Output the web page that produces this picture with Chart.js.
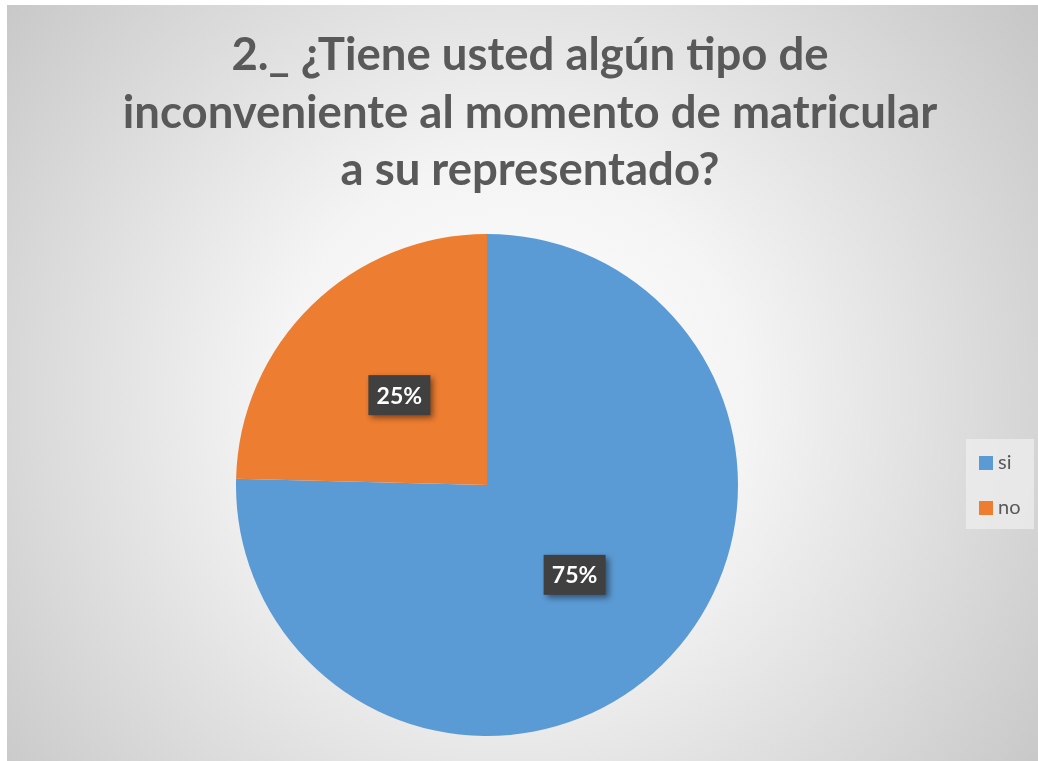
<!DOCTYPE html>
<html>
<head>
<meta charset="utf-8">
<script src="https://cdn.jsdelivr.net/npm/chart.js@4/dist/chart.umd.min.js"></script>
<style>
  html, body { margin: 0; padding: 0; background: #fff; }
  #wrap { width: 1038px; height: 761px; }
</style>
</head>
<body>
<div id="wrap"><canvas id="chart" width="1038" height="761"></canvas></div>
<script>
// chart data
const categories = ['si', 'no'];
const values = [75.4, 24.6];
const sliceColors = ['#5b9bd5', '#ed7d31'];
const titleLines = ['2._ ¿Tiene usted algún tipo de', 'inconveniente al momento de matricular', 'a su representado?'];

// gray radial background behind the whole chart
const backgroundPlugin = {
  id: 'bg',
  beforeDraw(chart) {
    const ctx = chart.ctx;
    const g = ctx.createRadialGradient(510, 400, 0, 510, 400, 680);
    g.addColorStop(0, '#ffffff');
    g.addColorStop(0.35, '#f4f4f4');
    g.addColorStop(1, '#c4c4c4');
    ctx.save();
    ctx.fillStyle = '#ffffff';
    ctx.fillRect(0, 0, chart.width, chart.height);
    ctx.fillStyle = g;
    ctx.fillRect(7, 5, chart.width - 7, chart.height - 5);
    ctx.restore();
  }
};

// title drawn across the full width (the built-in one is clipped to the padded area)
const titlePlugin = {
  id: 'bigTitle',
  afterDraw(chart) {
    const ctx = chart.ctx;
    ctx.save();
    ctx.font = 'bold 45.5px Lato';
    ctx.fillStyle = '#595959';
    ctx.textAlign = 'center';
    ctx.textBaseline = 'alphabetic';
    titleLines.forEach((line, i) => {
      ctx.fillText(line, 530, 70 + i * 57.5);
    });
    ctx.restore();
  }
};

// percentage labels in dark boxes
const labelPlugin = {
  id: 'pctLabels',
  afterDatasetsDraw(chart) {
    const ctx = chart.ctx;
    const meta = chart.getDatasetMeta(0);
    const data = chart.data.datasets[0].data;
    const total = data.reduce((a, b) => a + b, 0);
    ctx.save();
    ctx.font = 'bold 23px Lato';
    meta.data.forEach((arc, i) => {
      const p = arc.tooltipPosition();
      const txt = Math.round(data[i] / total * 100) + '%';
      const w = 62, h = 40;
      ctx.shadowColor = 'rgba(0,0,0,0.45)';
      ctx.shadowBlur = 6;
      ctx.shadowOffsetX = 3;
      ctx.shadowOffsetY = 3;
      ctx.fillStyle = '#404040';
      ctx.fillRect(p.x - w / 2, p.y - h / 2, w, h);
      ctx.shadowColor = 'transparent';
      ctx.fillStyle = '#ffffff';
      ctx.textAlign = 'center';
      ctx.textBaseline = 'middle';
      ctx.fillText(txt, p.x, p.y + 1);
    });
    ctx.restore();
  }
};

// legend box on the right
const legendPlugin = {
  id: 'sideLegend',
  afterDraw(chart) {
    const ctx = chart.ctx;
    const ds = chart.data.datasets[0];
    ctx.save();
    ctx.fillStyle = 'rgba(240,240,240,0.7)';
    ctx.fillRect(966, 439, 68, 90);
    ctx.font = '20px Lato';
    ctx.textBaseline = 'middle';
    chart.data.labels.forEach((lab, i) => {
      const y = 463 + i * 45;
      ctx.fillStyle = ds.backgroundColor[i];
      ctx.fillRect(979, y - 7, 14, 14);
      ctx.fillStyle = '#595959';
      ctx.fillText(lab, 998, y);
    });
    ctx.restore();
  }
};

new Chart(document.getElementById('chart'), {
  type: 'pie',
  data: {
    labels: categories,
    datasets: [{
      data: values,
      backgroundColor: sliceColors,
      borderWidth: 0
    }]
  },
  options: {
    responsive: false,
    animation: false,
    layout: { padding: { left: 236, right: 300, top: 234, bottom: 25 } },
    plugins: {
      legend: { display: false },
      tooltip: { enabled: false },
      title: { display: false }
    }
  },
  plugins: [backgroundPlugin, titlePlugin, labelPlugin, legendPlugin]
});
</script>
</body>
</html>
